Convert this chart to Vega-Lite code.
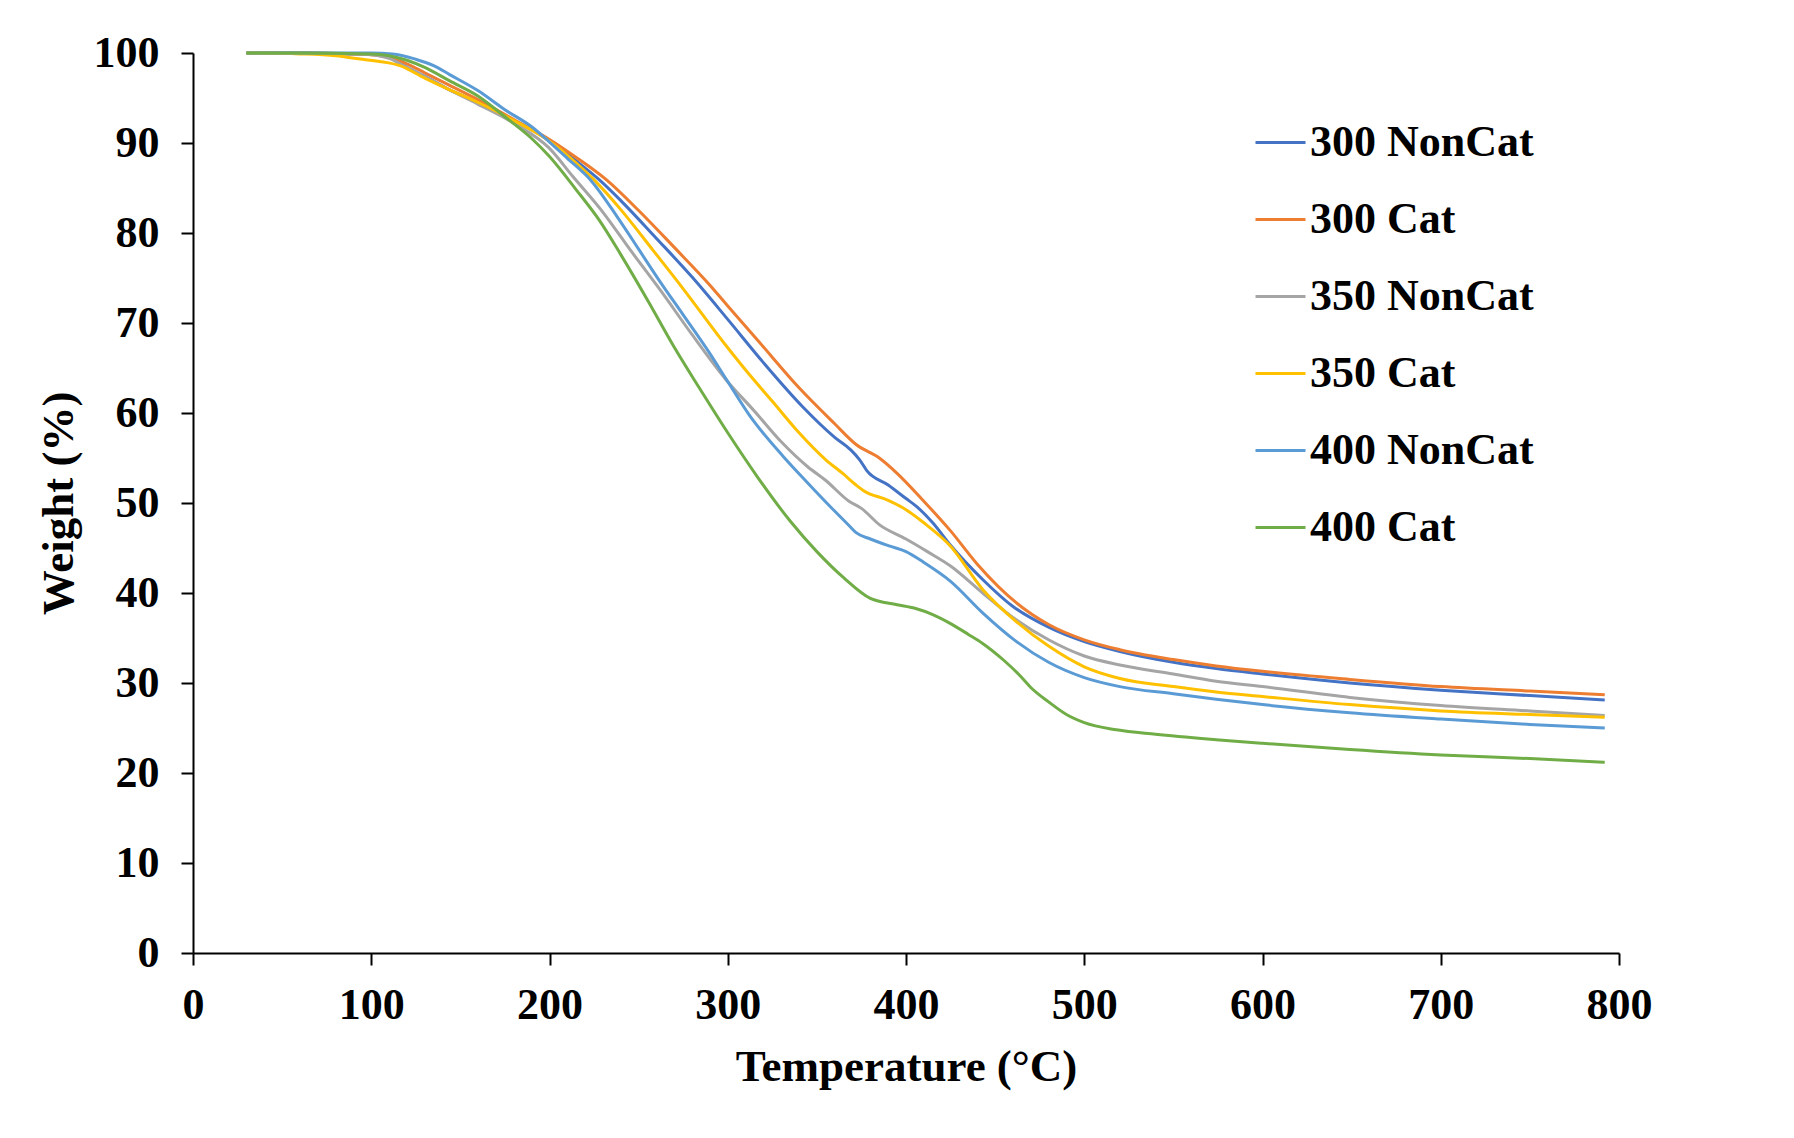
{
  "$schema": "https://vega.github.io/schema/vega-lite/v6.json",
  "width": 1426,
  "height": 900,
  "autosize": {"type": "none"},
  "padding": {"left": 193, "top": 53, "right": 175, "bottom": 185},
  "background": "white",
  "config": {"view": {"stroke": null}, "font": "Liberation Serif"},
  "data": {
    "values": [
      {"series": "300 NonCat", "temp": 30, "weight": 100},
      {"series": "300 NonCat", "temp": 60, "weight": 100},
      {"series": "300 NonCat", "temp": 90, "weight": 99.9},
      {"series": "300 NonCat", "temp": 100, "weight": 99.9},
      {"series": "300 NonCat", "temp": 110, "weight": 99.5},
      {"series": "300 NonCat", "temp": 120, "weight": 98.4},
      {"series": "300 NonCat", "temp": 130, "weight": 97.4},
      {"series": "300 NonCat", "temp": 144, "weight": 95.9},
      {"series": "300 NonCat", "temp": 160, "weight": 94.5},
      {"series": "300 NonCat", "temp": 180, "weight": 92.5},
      {"series": "300 NonCat", "temp": 200, "weight": 90.3},
      {"series": "300 NonCat", "temp": 215, "weight": 88.0},
      {"series": "300 NonCat", "temp": 228, "weight": 85.9},
      {"series": "300 NonCat", "temp": 240, "weight": 83.6},
      {"series": "300 NonCat", "temp": 260, "weight": 79.4},
      {"series": "300 NonCat", "temp": 280, "weight": 75.1},
      {"series": "300 NonCat", "temp": 300, "weight": 70.4},
      {"series": "300 NonCat", "temp": 320, "weight": 65.6},
      {"series": "300 NonCat", "temp": 342, "weight": 60.7},
      {"series": "300 NonCat", "temp": 360, "weight": 57.3},
      {"series": "300 NonCat", "temp": 369, "weight": 55.9},
      {"series": "300 NonCat", "temp": 374, "weight": 54.8},
      {"series": "300 NonCat", "temp": 378, "weight": 53.6},
      {"series": "300 NonCat", "temp": 390, "weight": 52.0},
      {"series": "300 NonCat", "temp": 400, "weight": 50.5},
      {"series": "300 NonCat", "temp": 406, "weight": 49.6},
      {"series": "300 NonCat", "temp": 415, "weight": 47.8},
      {"series": "300 NonCat", "temp": 425, "weight": 45.3},
      {"series": "300 NonCat", "temp": 443, "weight": 41.5},
      {"series": "300 NonCat", "temp": 460, "weight": 38.5},
      {"series": "300 NonCat", "temp": 480, "weight": 36.2},
      {"series": "300 NonCat", "temp": 500, "weight": 34.6},
      {"series": "300 NonCat", "temp": 520, "weight": 33.5},
      {"series": "300 NonCat", "temp": 550, "weight": 32.3},
      {"series": "300 NonCat", "temp": 574, "weight": 31.6},
      {"series": "300 NonCat", "temp": 600, "weight": 31.0},
      {"series": "300 NonCat", "temp": 649, "weight": 30.0},
      {"series": "300 NonCat", "temp": 700, "weight": 29.2},
      {"series": "300 NonCat", "temp": 750, "weight": 28.6},
      {"series": "300 NonCat", "temp": 792, "weight": 28.1},

      {"series": "300 Cat", "temp": 30, "weight": 100},
      {"series": "300 Cat", "temp": 60, "weight": 100},
      {"series": "300 Cat", "temp": 90, "weight": 99.9},
      {"series": "300 Cat", "temp": 100, "weight": 99.8},
      {"series": "300 Cat", "temp": 110, "weight": 99.5},
      {"series": "300 Cat", "temp": 120, "weight": 98.8},
      {"series": "300 Cat", "temp": 130, "weight": 97.8},
      {"series": "300 Cat", "temp": 144, "weight": 96.4},
      {"series": "300 Cat", "temp": 160, "weight": 94.8},
      {"series": "300 Cat", "temp": 180, "weight": 92.6},
      {"series": "300 Cat", "temp": 200, "weight": 90.4},
      {"series": "300 Cat", "temp": 215, "weight": 88.4},
      {"series": "300 Cat", "temp": 232, "weight": 85.9},
      {"series": "300 Cat", "temp": 250, "weight": 82.5},
      {"series": "300 Cat", "temp": 270, "weight": 78.4},
      {"series": "300 Cat", "temp": 290, "weight": 74.2},
      {"series": "300 Cat", "temp": 300, "weight": 71.9},
      {"series": "300 Cat", "temp": 318, "weight": 67.8},
      {"series": "300 Cat", "temp": 340, "weight": 62.8},
      {"series": "300 Cat", "temp": 360, "weight": 58.8},
      {"series": "300 Cat", "temp": 372, "weight": 56.5},
      {"series": "300 Cat", "temp": 385, "weight": 55.0},
      {"series": "300 Cat", "temp": 395, "weight": 53.3},
      {"series": "300 Cat", "temp": 410, "weight": 50.2},
      {"series": "300 Cat", "temp": 425, "weight": 46.9},
      {"series": "300 Cat", "temp": 440, "weight": 43.2},
      {"series": "300 Cat", "temp": 462, "weight": 38.9},
      {"series": "300 Cat", "temp": 480, "weight": 36.5},
      {"series": "300 Cat", "temp": 500, "weight": 34.8},
      {"series": "300 Cat", "temp": 520, "weight": 33.7},
      {"series": "300 Cat", "temp": 550, "weight": 32.6},
      {"series": "300 Cat", "temp": 574, "weight": 31.9},
      {"series": "300 Cat", "temp": 600, "weight": 31.3},
      {"series": "300 Cat", "temp": 649, "weight": 30.4},
      {"series": "300 Cat", "temp": 700, "weight": 29.6},
      {"series": "300 Cat", "temp": 750, "weight": 29.1},
      {"series": "300 Cat", "temp": 792, "weight": 28.7},

      {"series": "350 NonCat", "temp": 30, "weight": 100},
      {"series": "350 NonCat", "temp": 60, "weight": 100},
      {"series": "350 NonCat", "temp": 90, "weight": 99.9},
      {"series": "350 NonCat", "temp": 100, "weight": 99.8},
      {"series": "350 NonCat", "temp": 110, "weight": 99.4},
      {"series": "350 NonCat", "temp": 120, "weight": 98.4},
      {"series": "350 NonCat", "temp": 130, "weight": 97.4},
      {"series": "350 NonCat", "temp": 144, "weight": 95.9},
      {"series": "350 NonCat", "temp": 160, "weight": 94.3},
      {"series": "350 NonCat", "temp": 180, "weight": 92.2},
      {"series": "350 NonCat", "temp": 200, "weight": 89.4},
      {"series": "350 NonCat", "temp": 213, "weight": 86.3},
      {"series": "350 NonCat", "temp": 230, "weight": 82.3},
      {"series": "350 NonCat", "temp": 245, "weight": 78.2},
      {"series": "350 NonCat", "temp": 262, "weight": 73.7},
      {"series": "350 NonCat", "temp": 280, "weight": 68.7},
      {"series": "350 NonCat", "temp": 299, "weight": 63.7},
      {"series": "350 NonCat", "temp": 315, "weight": 60.2},
      {"series": "350 NonCat", "temp": 330, "weight": 56.8},
      {"series": "350 NonCat", "temp": 345, "weight": 54.0},
      {"series": "350 NonCat", "temp": 355, "weight": 52.5},
      {"series": "350 NonCat", "temp": 368, "weight": 50.2},
      {"series": "350 NonCat", "temp": 375, "weight": 49.4},
      {"series": "350 NonCat", "temp": 385, "weight": 47.6},
      {"series": "350 NonCat", "temp": 400, "weight": 46.0},
      {"series": "350 NonCat", "temp": 412, "weight": 44.6},
      {"series": "350 NonCat", "temp": 425, "weight": 43.0},
      {"series": "350 NonCat", "temp": 443, "weight": 40.0},
      {"series": "350 NonCat", "temp": 462, "weight": 37.0},
      {"series": "350 NonCat", "temp": 480, "weight": 34.8},
      {"series": "350 NonCat", "temp": 500, "weight": 33.0},
      {"series": "350 NonCat", "temp": 520, "weight": 32.0},
      {"series": "350 NonCat", "temp": 550, "weight": 31.0},
      {"series": "350 NonCat", "temp": 574, "weight": 30.2},
      {"series": "350 NonCat", "temp": 600, "weight": 29.6},
      {"series": "350 NonCat", "temp": 649, "weight": 28.4},
      {"series": "350 NonCat", "temp": 700, "weight": 27.5},
      {"series": "350 NonCat", "temp": 750, "weight": 26.9},
      {"series": "350 NonCat", "temp": 792, "weight": 26.4},

      {"series": "350 Cat", "temp": 30, "weight": 100},
      {"series": "350 Cat", "temp": 60, "weight": 99.9},
      {"series": "350 Cat", "temp": 80, "weight": 99.7},
      {"series": "350 Cat", "temp": 95, "weight": 99.3},
      {"series": "350 Cat", "temp": 107, "weight": 99.0},
      {"series": "350 Cat", "temp": 116, "weight": 98.6},
      {"series": "350 Cat", "temp": 130, "weight": 97.2},
      {"series": "350 Cat", "temp": 144, "weight": 95.9},
      {"series": "350 Cat", "temp": 160, "weight": 94.5},
      {"series": "350 Cat", "temp": 180, "weight": 92.5},
      {"series": "350 Cat", "temp": 200, "weight": 90.2},
      {"series": "350 Cat", "temp": 212, "weight": 88.3},
      {"series": "350 Cat", "temp": 225, "weight": 85.9},
      {"series": "350 Cat", "temp": 240, "weight": 82.6},
      {"series": "350 Cat", "temp": 258, "weight": 78.1},
      {"series": "350 Cat", "temp": 275, "weight": 73.8},
      {"series": "350 Cat", "temp": 299, "weight": 67.5},
      {"series": "350 Cat", "temp": 312, "weight": 64.3},
      {"series": "350 Cat", "temp": 325, "weight": 61.3},
      {"series": "350 Cat", "temp": 340, "weight": 57.8},
      {"series": "350 Cat", "temp": 355, "weight": 54.8},
      {"series": "350 Cat", "temp": 365, "weight": 53.2},
      {"series": "350 Cat", "temp": 372, "weight": 52.0},
      {"series": "350 Cat", "temp": 376, "weight": 51.4},
      {"series": "350 Cat", "temp": 390, "weight": 50.3},
      {"series": "350 Cat", "temp": 398, "weight": 49.5},
      {"series": "350 Cat", "temp": 410, "weight": 47.8},
      {"series": "350 Cat", "temp": 425, "weight": 45.2},
      {"series": "350 Cat", "temp": 443, "weight": 40.4},
      {"series": "350 Cat", "temp": 462, "weight": 36.8},
      {"series": "350 Cat", "temp": 480, "weight": 34.1},
      {"series": "350 Cat", "temp": 500, "weight": 31.8},
      {"series": "350 Cat", "temp": 520, "weight": 30.5},
      {"series": "350 Cat", "temp": 550, "weight": 29.6},
      {"series": "350 Cat", "temp": 574, "weight": 29.0},
      {"series": "350 Cat", "temp": 600, "weight": 28.5},
      {"series": "350 Cat", "temp": 649, "weight": 27.6},
      {"series": "350 Cat", "temp": 700, "weight": 26.9},
      {"series": "350 Cat", "temp": 750, "weight": 26.5},
      {"series": "350 Cat", "temp": 792, "weight": 26.2},

      {"series": "400 NonCat", "temp": 30, "weight": 100},
      {"series": "400 NonCat", "temp": 60, "weight": 100},
      {"series": "400 NonCat", "temp": 100, "weight": 100},
      {"series": "400 NonCat", "temp": 112, "weight": 99.9},
      {"series": "400 NonCat", "temp": 125, "weight": 99.3},
      {"series": "400 NonCat", "temp": 135, "weight": 98.6},
      {"series": "400 NonCat", "temp": 144, "weight": 97.6},
      {"series": "400 NonCat", "temp": 160, "weight": 95.8},
      {"series": "400 NonCat", "temp": 175, "weight": 93.7},
      {"series": "400 NonCat", "temp": 190, "weight": 91.8},
      {"series": "400 NonCat", "temp": 200, "weight": 90.1},
      {"series": "400 NonCat", "temp": 210, "weight": 88.3},
      {"series": "400 NonCat", "temp": 223, "weight": 85.9},
      {"series": "400 NonCat", "temp": 238, "weight": 81.8},
      {"series": "400 NonCat", "temp": 250, "weight": 78.2},
      {"series": "400 NonCat", "temp": 262, "weight": 74.6},
      {"series": "400 NonCat", "temp": 275, "weight": 70.9},
      {"series": "400 NonCat", "temp": 290, "weight": 66.6},
      {"series": "400 NonCat", "temp": 299, "weight": 63.8},
      {"series": "400 NonCat", "temp": 312, "weight": 59.8},
      {"series": "400 NonCat", "temp": 331, "weight": 55.2},
      {"series": "400 NonCat", "temp": 345, "weight": 52.2},
      {"series": "400 NonCat", "temp": 358, "weight": 49.5},
      {"series": "400 NonCat", "temp": 368, "weight": 47.5},
      {"series": "400 NonCat", "temp": 372, "weight": 46.7},
      {"series": "400 NonCat", "temp": 380, "weight": 46.0},
      {"series": "400 NonCat", "temp": 391, "weight": 45.2},
      {"series": "400 NonCat", "temp": 400, "weight": 44.6},
      {"series": "400 NonCat", "temp": 410, "weight": 43.4},
      {"series": "400 NonCat", "temp": 425, "weight": 41.3},
      {"series": "400 NonCat", "temp": 443, "weight": 37.8},
      {"series": "400 NonCat", "temp": 462, "weight": 34.6},
      {"series": "400 NonCat", "temp": 480, "weight": 32.3},
      {"series": "400 NonCat", "temp": 500, "weight": 30.6},
      {"series": "400 NonCat", "temp": 520, "weight": 29.6},
      {"series": "400 NonCat", "temp": 550, "weight": 28.8},
      {"series": "400 NonCat", "temp": 574, "weight": 28.2},
      {"series": "400 NonCat", "temp": 600, "weight": 27.6},
      {"series": "400 NonCat", "temp": 649, "weight": 26.7},
      {"series": "400 NonCat", "temp": 700, "weight": 26.0},
      {"series": "400 NonCat", "temp": 750, "weight": 25.4},
      {"series": "400 NonCat", "temp": 792, "weight": 25.0},

      {"series": "400 Cat", "temp": 30, "weight": 100},
      {"series": "400 Cat", "temp": 60, "weight": 100},
      {"series": "400 Cat", "temp": 100, "weight": 99.9},
      {"series": "400 Cat", "temp": 110, "weight": 99.7},
      {"series": "400 Cat", "temp": 120, "weight": 99.2},
      {"series": "400 Cat", "temp": 130, "weight": 98.4},
      {"series": "400 Cat", "temp": 144, "weight": 96.9},
      {"series": "400 Cat", "temp": 160, "weight": 95.2},
      {"series": "400 Cat", "temp": 177, "weight": 92.6},
      {"series": "400 Cat", "temp": 190, "weight": 90.5},
      {"series": "400 Cat", "temp": 200, "weight": 88.5},
      {"series": "400 Cat", "temp": 215, "weight": 84.8},
      {"series": "400 Cat", "temp": 228, "weight": 81.4},
      {"series": "400 Cat", "temp": 240, "weight": 77.6},
      {"series": "400 Cat", "temp": 256, "weight": 72.2},
      {"series": "400 Cat", "temp": 270, "weight": 67.3},
      {"series": "400 Cat", "temp": 284, "weight": 62.8},
      {"series": "400 Cat", "temp": 300, "weight": 57.8},
      {"series": "400 Cat", "temp": 317, "weight": 52.8},
      {"series": "400 Cat", "temp": 335, "weight": 48.0},
      {"series": "400 Cat", "temp": 350, "weight": 44.6},
      {"series": "400 Cat", "temp": 365, "weight": 41.7},
      {"series": "400 Cat", "temp": 380, "weight": 39.4},
      {"series": "400 Cat", "temp": 395, "weight": 38.7},
      {"series": "400 Cat", "temp": 405, "weight": 38.3},
      {"series": "400 Cat", "temp": 415, "weight": 37.6},
      {"series": "400 Cat", "temp": 425, "weight": 36.6},
      {"series": "400 Cat", "temp": 435, "weight": 35.4},
      {"series": "400 Cat", "temp": 443, "weight": 34.4},
      {"series": "400 Cat", "temp": 455, "weight": 32.5},
      {"series": "400 Cat", "temp": 464, "weight": 30.8},
      {"series": "400 Cat", "temp": 470, "weight": 29.5},
      {"series": "400 Cat", "temp": 480, "weight": 27.9},
      {"series": "400 Cat", "temp": 490, "weight": 26.5},
      {"series": "400 Cat", "temp": 500, "weight": 25.6},
      {"series": "400 Cat", "temp": 518, "weight": 24.8},
      {"series": "400 Cat", "temp": 540, "weight": 24.3},
      {"series": "400 Cat", "temp": 574, "weight": 23.7},
      {"series": "400 Cat", "temp": 600, "weight": 23.3},
      {"series": "400 Cat", "temp": 649, "weight": 22.6},
      {"series": "400 Cat", "temp": 700, "weight": 22.0},
      {"series": "400 Cat", "temp": 750, "weight": 21.6},
      {"series": "400 Cat", "temp": 792, "weight": 21.2}
    ]
  },
  "mark": {"type": "line", "strokeWidth": 3, "interpolate": "monotone"},
  "encoding": {
    "x": {
      "field": "temp",
      "type": "quantitative",
      "scale": {"domain": [0, 800], "nice": false},
      "axis": {
        "title": "Temperature (°C)",
        "values": [0, 100, 200, 300, 400, 500, 600, 700, 800],
        "grid": false,
        "domainColor": "black",
        "domainWidth": 2,
        "tickColor": "black",
        "tickWidth": 2,
        "tickSize": 12,
        "labelFont": "Liberation Serif",
        "labelFontSize": 44,
        "labelFontWeight": "bold",
        "labelColor": "black",
        "labelPadding": 18,
        "labelFlush": false,
        "labelOverlap": false,
        "titleFont": "Liberation Serif",
        "titleFontSize": 45,
        "titleFontWeight": "bold",
        "titleColor": "black",
        "titlePadding": 17
      }
    },
    "y": {
      "field": "weight",
      "type": "quantitative",
      "scale": {"domain": [0, 100], "nice": false},
      "axis": {
        "title": "Weight (%)",
        "values": [0, 10, 20, 30, 40, 50, 60, 70, 80, 90, 100],
        "grid": false,
        "domainColor": "black",
        "domainWidth": 2,
        "tickColor": "black",
        "tickWidth": 2,
        "tickSize": 12,
        "labelFont": "Liberation Serif",
        "labelFontSize": 44,
        "labelFontWeight": "bold",
        "labelColor": "black",
        "labelPadding": 22,
        "labelFlush": false,
        "labelOverlap": false,
        "titleFont": "Liberation Serif",
        "titleFontSize": 45,
        "titleFontWeight": "bold",
        "titleColor": "black",
        "titlePadding": 12
      }
    },
    "color": {
      "field": "series",
      "type": "nominal",
      "scale": {
        "domain": ["300 NonCat", "300 Cat", "350 NonCat", "350 Cat", "400 NonCat", "400 Cat"],
        "range": ["#4472C4", "#ED7D31", "#A5A5A5", "#FFC000", "#5B9BD5", "#70AD47"]
      },
      "legend": {
        "title": null,
        "orient": "none",
        "legendX": 1061,
        "legendY": 63,
        "padding": 0,
        "symbolType": "stroke",
        "symbolStrokeWidth": 3,
        "symbolSize": 2500,
        "labelFont": "Liberation Serif",
        "labelFontSize": 44,
        "labelFontWeight": "bold",
        "labelColor": "black",
        "labelOffset": 3,
        "labelLimit": 600,
        "rowPadding": 28
      }
    }
  }
}
